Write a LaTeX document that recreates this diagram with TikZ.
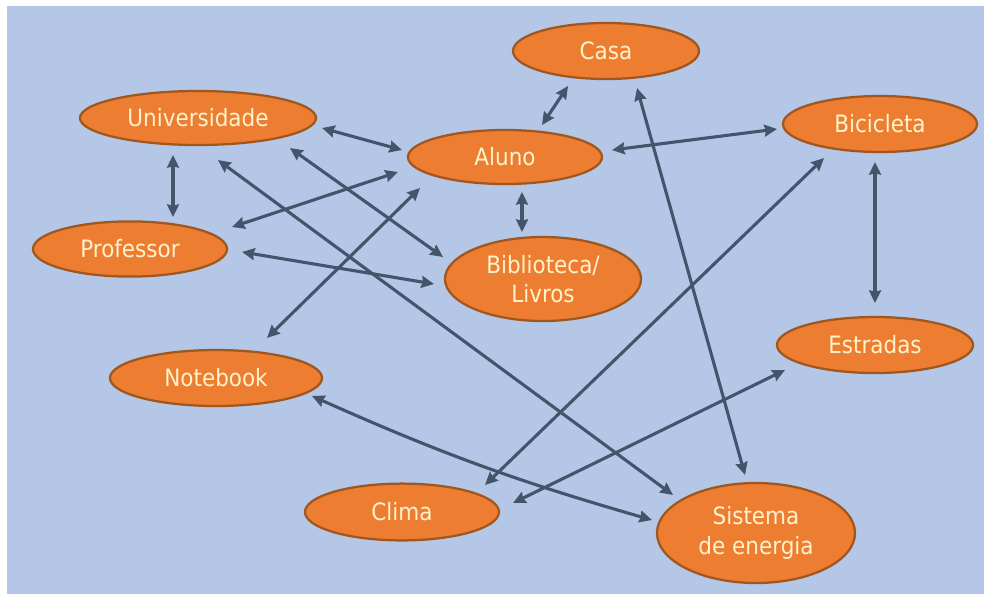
\documentclass[tikz,border=0pt]{standalone}
\usepackage{fontspec}
\setmainfont{DejaVu Sans Condensed}
\usetikzlibrary{shapes.geometric,arrows.meta,calc}

\definecolor{bgblue}{HTML}{B4C7E7}
\definecolor{bubblefill}{HTML}{ED7D31}
\definecolor{bubbleline}{HTML}{A0561F}
\definecolor{bubbletext}{HTML}{FFF2CC}
\definecolor{linkcolor}{HTML}{44546A}

\begin{document}
\begin{tikzpicture}[
		x=0.025cm, y=-0.025cm,
		bubble/.style = {draw=bubbleline, fill=bubblefill, ellipse, line width=1.6pt,
			inner sep=0pt, text=bubbletext, align=center,
			font=\fontsize{17}{21}\selectfont},
		link/.style = {draw=linkcolor, line width=2.2pt,
			{Stealth[length=9pt,width=8.5pt,inset=1pt]}-{Stealth[length=9pt,width=8.5pt,inset=1pt]}}
	]
	\fill[white] (0,0) rectangle (984,594);
	\useasboundingbox (0,0) rectangle (984,594);
	\fill[bgblue] (7,6) rectangle (984,594);
	% Top row.
	\node[bubble, minimum width=4.65cm, minimum height=1.4cm] (casa) at (606,51) {Casa};
	\node[bubble, minimum width=5.9cm, minimum height=1.35cm] (uni) at (198,118) {Universidade};
	\node[bubble, minimum width=4.85cm, minimum height=1.35cm] (aluno) at (505,157) {Aluno};
	\node[bubble, minimum width=4.85cm, minimum height=1.4cm] (bici) at (880,124) {Bicicleta};
	% Middle row.
	\node[bubble, minimum width=4.85cm, minimum height=1.38cm] (prof) at (130,249) {Professor};
	\node[bubble, minimum width=4.9cm, minimum height=2.1cm] (bib) at (543,279) {Biblioteca/\\Livros};
	\node[bubble, minimum width=4.9cm, minimum height=1.4cm] (estr) at (875,345) {Estradas};
	\node[bubble, minimum width=5.3cm, minimum height=1.4cm] (note) at (216,378) {Notebook};
	% Bottom row.
	\node[bubble, minimum width=4.85cm, minimum height=1.42cm] (clima) at (402,512) {Clima};
	\node[bubble, minimum width=4.95cm, minimum height=2.5cm] (sis) at (756,533) {Sistema\\de energia};

	\draw[link] ($(uni)+(-25,37)$) -- ($(prof)+(43,-32)$);
	\draw[link] ($(uni)+(124,10)$) -- ($(aluno)+(-103,-7)$);
	\draw[link] ($(aluno)+(-107,15)$) -- ($(prof)+(102,-22)$);
	\draw[link] ($(prof)+(112,3)$) -- ($(bib)+(-109,5)$);
	\draw[link] ($(uni)+(92,30)$) -- ($(bib)+(-100,-22)$);
	\draw[link] ($(uni)+(20,42)$) -- ($(sis)+(-83,-38)$);
	\draw[link] ($(note)+(51,-40)$) -- ($(aluno)+(-85,31)$);
	\draw[link] ($(aluno)+(37,-32)$) -- ($(casa)+(-38,35)$);
	\draw[link] ($(aluno)+(17,35)$) -- ($(bib)+(-21,-47)$);
	\draw[link] ($(aluno)+(107,-7)$) -- ($(bici)+(-103,5)$);
	\draw[link] ($(casa)+(31,37)$) -- ($(sis)+(-11,-58)$);
	\draw[link] ($(clima)+(83,-27)$) -- ($(bici)+(-56,34)$);
	\draw[link] ($(clima)+(111,-9)$) -- ($(estr)+(-90,25)$);
	\draw[link] ($(bici)+(-5,38)$) -- ($(estr)+(0,-42)$);
	\draw[link] ($(note)+(96,18)$) to[bend right=4] ($(sis)+(-104,-13)$);
\end{tikzpicture}
\end{document}
